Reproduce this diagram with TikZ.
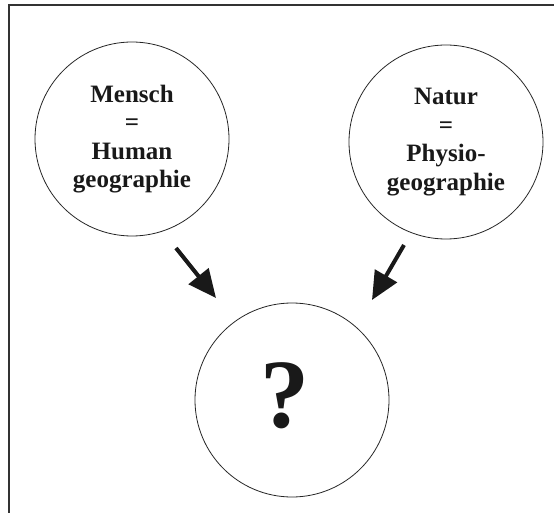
\documentclass[tikz,border=0pt]{standalone}
\usepackage{fontspec}
\setmainfont{Liberation Serif}[BoldFont={Liberation Serif Bold}]
\usetikzlibrary{arrows.meta}
\begin{document}
\begin{tikzpicture}[x=1pt,y=-1pt,
  bubble/.style={draw=black!85, line width=0.8pt, circle, minimum size=194pt, inner sep=0pt},
  lbl/.style={font=\fontsize{25}{28.5}\selectfont\bfseries, align=center, text=black!90},
  bigarrow/.style={draw=black!90, line width=4pt, -{Triangle[length=28pt,width=25pt]}}]
\useasboundingbox (0,0) rectangle (554,513);
\draw[line width=1.3pt, draw=black!80] (9,513) -- (9,5) -- (554,5);
\node[bubble] (m) at (132,139) {};
\node[lbl] (mt) at (m.center) {Mensch\\=\\Human\\geographie};
\node[bubble] (n) at (446,142) {};
\node[lbl] (nt) at (n.center) {Natur\\=\\Physio-\\geographie};
\node[bubble] (q) at (292,400) {};
\node[font=\fontsize{98}{100}\selectfont\bfseries, text=black!90, inner sep=0pt] (qt) at (285,396) {?};
\coordinate (a1s) at (176,248);
\coordinate (a1e) at (216,298);
\coordinate (a2s) at (404,245);
\coordinate (a2e) at (372,300);
\draw[bigarrow] (a1s) -- (a1e);
\draw[bigarrow] (a2s) -- (a2e);
\end{tikzpicture}
\end{document}
